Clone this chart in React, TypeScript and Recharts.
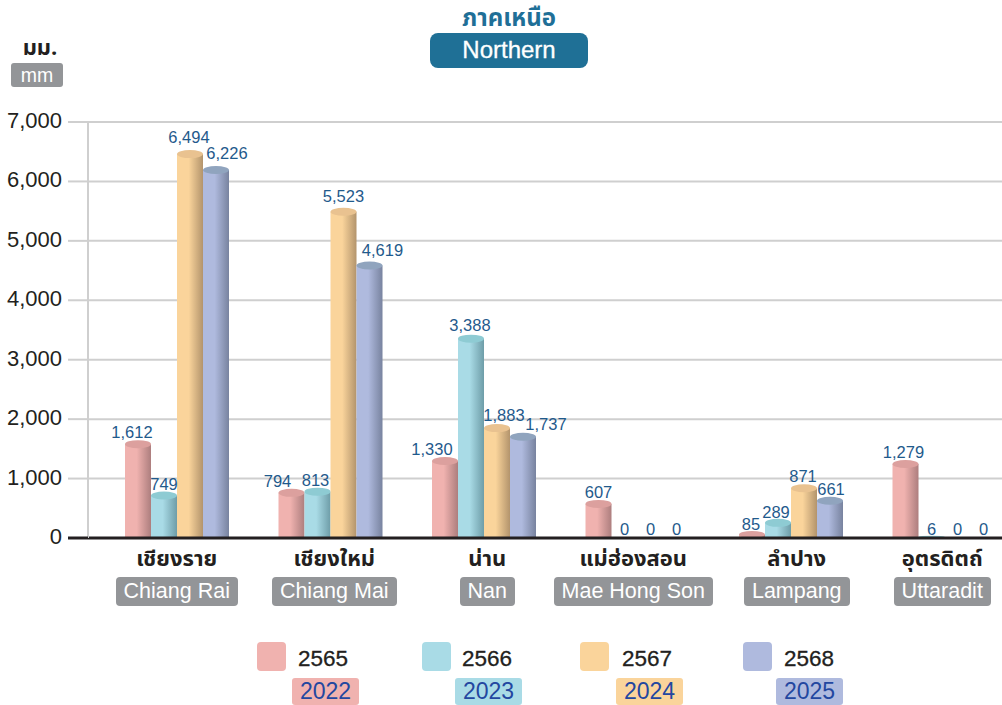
import { Bar, BarChart, CartesianGrid, LabelList, Legend, XAxis, YAxis } from "recharts"

const thaiNames = ["เชียงราย", "เชียงใหม่", "น่าน", "แม่ฮ่องสอน", "ลำปาง", "อุตรดิตถ์"]
const englishNames = ["Chiang Rai", "Chiang Mai", "Nan", "Mae Hong Son", "Lampang", "Uttaradit"]

const values2565 = [1612, 794, 1330, 607, 85, 1279]
const values2566 = [749, 813, 3388, 0, 289, 6]
const values2567 = [6494, 5523, 1883, 0, 871, 0]
const values2568 = [6226, 4619, 1737, 0, 661, 0]

const yTicks = [0, 1000, 2000, 3000, 4000, 5000, 6000, 7000]

const thaiYears = ["2565", "2566", "2567", "2568"]
const westernYears = ["2022", "2023", "2024", "2025"]

const data = thaiNames.map((name, i) => ({
  name,
  english: englishNames[i],
  y2565: values2565[i],
  y2566: values2566[i],
  y2567: values2567[i],
  y2568: values2568[i],
}))

const seriesStyles = [
  { key: "y2565", id: "red", light: "#F0B2AF", dark: "#AD7E7E", top: "#DCA09E", labelDx: [-6, -14, -13, 0, -1, -2] },
  { key: "y2566", id: "teal", light: "#A9DBE6", dark: "#6E9DA8", top: "#8ECBD3", labelDx: [0, -2, -1, 0, -2, 0] },
  { key: "y2567", id: "orange", light: "#FAD49B", dark: "#B3946C", top: "#E9C290", labelDx: [-1, 0, 7, 0, -1, 0] },
  { key: "y2568", id: "blue", light: "#AFBADE", dark: "#78839F", top: "#90A4BE", labelDx: [11, 13, 23, 0, 1, 0] },
]

// the source's category labels are not quite evenly spaced
const tickDx = [0, 4, 3.5, -4, 6, -2]

const legendSlots = [
  { swatch: 257, text: 298, badge: 292 },
  { swatch: 422, text: 462, badge: 455 },
  { swatch: 580, text: 622, badge: 616 },
  { swatch: 743, text: 784, badge: 776 },
]

const FONT = '"Liberation Sans", "Noto Sans", Arial, sans-serif'
const THAI_FONT = '"Noto Sans Thai", "Liberation Sans", "Noto Sans", sans-serif'

function Cylinder(props: any) {
  const { x, y, width, height, gradient, top } = props
  if (!height || height <= 0) return null
  const ry = Math.min(4, height / 2 + 1)
  const lift = 2
  return (
    <g>
      <path
        d={`M${x},${y - lift + ry} V${y + height} H${x + width} V${y - lift + ry} Z`}
        fill={`url(#${gradient})`}
      />
      <ellipse cx={x + width / 2} cy={y - lift + ry} rx={width / 2} ry={ry} fill={top} />
    </g>
  )
}

function ValueLabel(props: any) {
  const { x, y, width, height, value, index, dxList } = props
  return (
    <text
      x={x + width / 2 + dxList[index]}
      y={y - 3 - height / 65}
      textAnchor="middle"
      fontSize={16.5}
      fontFamily={FONT}
      fill="#1F5A8C"
    >
      {Number(value).toLocaleString("en-US")}
    </text>
  )
}

function YTick(props: any) {
  const { y, payload } = props
  const isZero = payload.value === 0
  return (
    <g>
      <line
        x1={68}
        x2={88}
        y1={y}
        y2={y}
        stroke={isZero ? "#231F20" : "#CFCFCF"}
        strokeWidth={isZero ? 3 : 2}
      />
      <text x={62} y={y + 6} textAnchor="end" fontSize={22} fontFamily={FONT} fill="#231F20">
        {payload.value.toLocaleString("en-US")}
      </text>
    </g>
  )
}

function XTick(props: any) {
  const { x, y, payload, index } = props
  const cx = x + tickDx[index]
  return (
    <g>
      <text
        x={cx}
        y={y + 20}
        textAnchor="middle"
        fontSize={22}
        fontWeight={700}
        fontFamily={THAI_FONT}
        fill="#231F20"
      >
        {payload.value}
      </text>
      <foreignObject x={cx - 100} y={y + 31} width={200} height={32}>
        <div style={{ textAlign: "center", lineHeight: "29px" }}>
          <span
            style={{
              display: "inline-block",
              background: "#939598",
              color: "#fff",
              borderRadius: 4,
              padding: "0 8px",
              fontSize: 21.5,
              fontFamily: FONT,
            }}
          >
            {englishNames[index]}
          </span>
        </div>
      </foreignObject>
    </g>
  )
}

function YearLegend() {
  return (
    <div>
      {thaiYears.map((year, i) => (
        <div key={year}>
          <div
            style={{
              position: "absolute",
              left: legendSlots[i].swatch,
              top: 642,
              width: 29,
              height: 29,
              borderRadius: 4,
              background: seriesStyles[i].light,
            }}
          />
          <div
            style={{
              position: "absolute",
              left: legendSlots[i].text,
              top: 646,
              fontSize: 22.5,
              lineHeight: "25px",
              color: "#231F20",
              fontFamily: FONT,
              WebkitTextStroke: "0.3px #231F20",
            }}
          >
            {year}
          </div>
          <div
            style={{
              position: "absolute",
              left: legendSlots[i].badge,
              top: 678,
              width: 67,
              height: 27,
              lineHeight: "27px",
              borderRadius: 3,
              textAlign: "center",
              fontSize: 23,
              color: "#2347A0",
              background: seriesStyles[i].light,
              fontFamily: FONT,
            }}
          >
            {westernYears[i]}
          </div>
        </div>
      ))}
    </div>
  )
}

export default function App() {
  return (
    <div
      style={{
        position: "absolute",
        left: 0,
        top: 0,
        width: 1002,
        height: 705,
        overflow: "hidden",
        background: "#fff",
      }}
    >
      <div
        style={{
          position: "absolute",
          left: 409,
          width: 200,
          top: 1,
          textAlign: "center",
          fontSize: 24,
          fontWeight: 700,
          color: "#1F6F97",
          fontFamily: THAI_FONT,
        }}
      >
        ภาคเหนือ
      </div>
      <div
        style={{
          position: "absolute",
          left: 430,
          top: 33,
          width: 158,
          height: 35,
          lineHeight: "34px",
          borderRadius: 8,
          background: "#1F7096",
          color: "#fff",
          textAlign: "center",
          fontSize: 24,
          fontFamily: FONT,
          WebkitTextStroke: "0.3px #fff",
        }}
      >
        Northern
      </div>
      <div
        style={{
          position: "absolute",
          left: 14,
          width: 52,
          top: 37,
          lineHeight: "24px",
          textAlign: "center",
          fontSize: 22,
          fontWeight: 700,
          color: "#231F20",
          fontFamily: THAI_FONT,
        }}
      >
        มม.
      </div>
      <div
        style={{
          position: "absolute",
          left: 11,
          top: 63,
          width: 52,
          height: 24,
          lineHeight: "24px",
          borderRadius: 3,
          background: "#939598",
          color: "#fff",
          textAlign: "center",
          fontSize: 19.5,
          fontFamily: FONT,
        }}
      >
        mm
      </div>

      <BarChart
        width={1021}
        height={705}
        data={data}
        barSize={26}
        barGap={0}
        margin={{ top: 122, right: 0, bottom: 0, left: 0 }}
      >
        <defs>
          {seriesStyles.map((s) => (
            <linearGradient key={s.id} id={s.id} x1="0" y1="0" x2="1" y2="0">
              <stop offset="0%" stopColor={s.light} />
              <stop offset="45%" stopColor={s.light} />
              <stop offset="100%" stopColor={s.dark} />
            </linearGradient>
          ))}
        </defs>
        <CartesianGrid vertical={false} stroke="#CFCFCF" strokeWidth={2} />
        <XAxis
          dataKey="name"
          height={167}
          padding={{ left: 12, right: 0 }}
          axisLine={{ stroke: "#231F20", strokeWidth: 3 }}
          tickLine={false}
          interval={0}
          tick={<XTick />}
        />
        <YAxis
          width={88}
          domain={[0, 7000]}
          ticks={yTicks}
          axisLine={{ stroke: "#CFCFCF", strokeWidth: 2 }}
          tickLine={false}
          tick={<YTick />}
        />
        <Legend
          content={<YearLegend />}
          wrapperStyle={{ left: 0, top: 0, bottom: "auto", width: 1002, height: 0 }}
        />
        {seriesStyles.map((s) => (
          <Bar
            key={s.key}
            dataKey={s.key}
            isAnimationActive={false}
            fill={s.light}
            shape={(p: any) => <Cylinder {...p} gradient={s.id} top={s.top} />}
          >
            <LabelList
              dataKey={s.key}
              content={(p: any) => <ValueLabel {...p} dxList={s.labelDx} />}
            />
          </Bar>
        ))}
      </BarChart>
    </div>
  )
}
